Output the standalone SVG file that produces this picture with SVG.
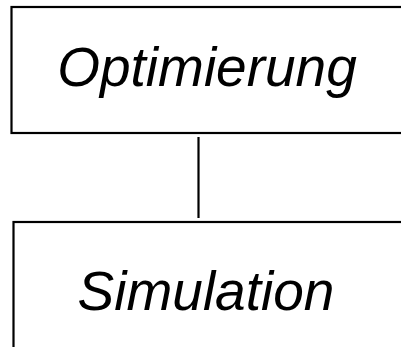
<svg xmlns="http://www.w3.org/2000/svg" width="401" height="347" viewBox="0 0 401 347">
<style>
.box{fill:#fff;stroke:#000;stroke-width:2.2}
.lbl{font-family:"Liberation Sans",Arial,sans-serif;font-style:italic;font-size:55px;fill:#000;text-anchor:middle}
.conn{stroke:#000;stroke-width:2.2;fill:none}
</style>
<rect width="401" height="347" fill="#fff"/>
<g id="connectors">
<line class="conn" x1="198.5" y1="137" x2="198.5" y2="218"/>
</g>
<g id="optimierung">
<rect class="box" x="11.5" y="7" width="400" height="126"/>
<text class="lbl" x="207" y="86">Optimierung</text>
</g>
<g id="simulation">
<rect class="box" x="13.5" y="222" width="400" height="140"/>
<text class="lbl" x="206" y="310">Simulation</text>
</g>
</svg>
